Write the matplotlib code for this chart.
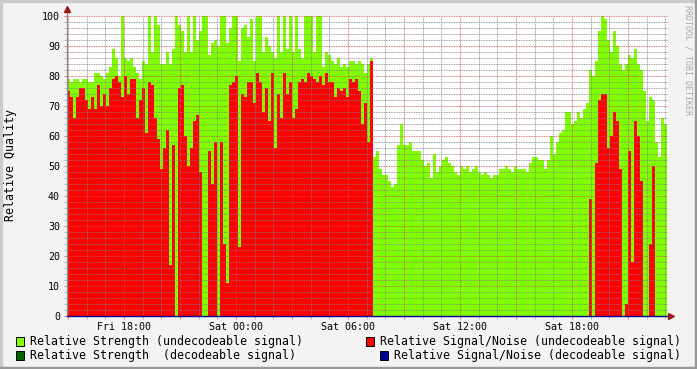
import numpy as np
import matplotlib.pyplot as plt
from matplotlib.patches import Rectangle

# one sample every ~9.6 min, time in hours relative to Fri 18:00
START_H = -3.054
STEP_H = 0.1607

strength_undec = [
    79, 78, 79, 79, 78, 79, 79, 78, 78, 81, 81, 80, 79, 81, 83, 89, 86, 80, 100, 86,
    85, 86, 83, 81, 79, 85, 84, 100, 88, 100, 97, 84, 84,
    88, 84, 89, 100, 97, 95, 88, 100, 88, 100, 92, 95, 100, 100, 87, 91, 92, 90, 100, 100,
    91, 96, 100, 100, 85, 96, 97, 93, 99, 85, 100, 100, 88,
    93, 90, 88, 86, 100, 88, 100, 89, 100, 88, 100, 89, 86, 100, 100, 100, 88, 100, 100, 83,
    88, 87, 85, 84, 86, 83, 84, 83, 85, 85, 84, 85, 84, 81, 84, 86,
    53, 55, 49, 47, 47, 45, 43, 44, 57, 64, 57, 57, 58, 55, 55, 55, 52, 50, 51, 46,
    54, 48, 50, 52, 53, 51, 50, 48, 47, 50, 49, 50, 48, 49, 50, 48, 47, 48, 47, 46,
    47, 47, 49, 49, 50, 49, 48, 50, 49,
    49, 49, 48, 51, 53, 53, 52, 52, 49, 52, 60, 54, 58, 61, 62, 68, 68, 64, 65, 68,
    66, 69, 71, 82, 80, 85, 95, 100, 99, 92, 88, 95, 90, 84, 82, 84, 87, 86, 89, 84,
    82, 75, 65, 73, 72, 58, 53, 66, 64,
]
snr_undec = [
    75, 73, 66, 73, 76, 76, 72, 69, 73, 69, 77, 70, 74, 70, 76, 79, 80, 78, 73, 80,
    74, 79, 79, 66, 72, 76, 61, 78, 77, 66, 59, 49, 56,
    62, 17, 57, 0, 76, 77, 60, 50, 56, 65, 67, 48, 0, 0, 55, 44, 58, 0, 58, 24,
    11, 77, 78, 80, 23, 74, 73, 78, 78, 71, 81, 78, 68,
    76, 65, 81, 56, 74, 66, 81, 74, 78, 66, 69, 78, 79, 78, 81, 80, 79, 78, 80, 77,
    81, 78, 78, 73, 76, 75, 76, 73, 79, 78, 79, 75, 64, 71, 58, 85,
    0, 0, 0, 0, 0, 0, 0, 0, 0, 0, 0, 0, 0, 0, 0, 0, 0, 0, 0, 0,
    0, 0, 0, 0, 0, 0, 0, 0, 0, 0, 0, 0, 0, 0, 0, 0, 0, 0, 0, 0,
    0, 0, 0, 0, 0, 0, 0, 0, 0,
    0, 0, 0, 0, 0, 0, 0, 0, 0, 0, 0, 0, 0, 0, 0, 0, 0, 0, 0, 0,
    0, 0, 0, 39, 0, 51, 72, 74, 74, 56, 60, 68, 65, 49, 0, 4, 55, 18, 65, 60,
    45, 0, 0, 24, 50, 0, 0, 0, 0,
]
strength_dec = [0] * len(strength_undec)
snr_dec = [0] * len(snr_undec)

tick_hours = [0, 6, 12, 18, 24]
tick_labels = ["Fri 18:00", "Sat 00:00", "Sat 06:00", "Sat 12:00", "Sat 18:00"]

legend_left = ["Relative Strength (undecodeable signal)",
               "Relative Strength  (decodeable signal)"]
legend_right = ["Relative Signal/Noise (undecodeable signal)",
                "Relative Signal/Noise (decodeable signal)"]

GREEN = "#80ff00"
RED = "#ff0000"
DKGREEN = "#006400"
BLUE = "#000096"
MGRID = (0.80, 0.30, 0.30, 0.35)
GRID = (0.50, 0.50, 0.50, 0.28)
DOTS = (0, (1, 1))

plt.rcParams["font.family"] = "DejaVu Sans Mono"

W, H = 697, 369
PX_H = 112 / 6  # pixels per hour


def fx(px):
    return px / W


def fy(py):
    return 1 - py / H


fig = plt.figure(figsize=(W / 100, H / 100), dpi=100, facecolor="#f3f3f3")
ax = fig.add_axes([fx(67), fy(315.5), (668 - 67) / W, 300 / H])
ax.set_facecolor("white")

edges = START_H + STEP_H * np.arange(len(strength_undec) + 1)
ax.stairs(strength_undec, edges, fill=True, color=GREEN, zorder=1)
ax.stairs(snr_undec, edges, fill=True, color=RED, zorder=2)
ax.stairs(strength_dec, edges, fill=True, color=DKGREEN, zorder=2)

x0 = START_H
x1 = START_H + (668 - 67) / PX_H
ax.set_xlim(x0, x1)
ax.set_ylim(0, 100)

ax.set_yticks(range(0, 101, 10))
ax.set_yticks(range(0, 101, 2), minor=True)
major_x = np.arange(-3, 30, 3)
ax.set_xticks(major_x)
ax.set_xticklabels([tick_labels[tick_hours.index(h)] if h in tick_hours else "" for h in major_x])
ax.set_xticks(np.arange(-3, 30, 1), minor=True)

ax.grid(which="minor", color=GRID, linestyle=DOTS, linewidth=0.6)
ax.grid(which="major", color=MGRID, linestyle=DOTS, linewidth=0.6)
ax.set_axisbelow(False)

ax.tick_params(which="both", direction="out", length=2, width=0.72, labelsize=7.2, pad=3)
ax.tick_params(which="major", color=(0.87, 0.32, 0.32, 0.7))
ax.tick_params(which="minor", color=(0.5, 0.5, 0.5, 0.5))
for s in ax.spines.values():
    s.set_visible(False)

# axes with arrows
arrow_x = (671 - 124) / PX_H
ax.plot([x0, x0], [0, 102], color="#8a8a8a", lw=0.9, clip_on=False, zorder=4)
ax.plot([x0, arrow_x], [0, 0], color=BLUE, lw=1.0, clip_on=False, zorder=4)
ax.plot([x0], [102.2], marker="^", ms=4, color="#9a1a1a", clip_on=False, zorder=5)
ax.plot([arrow_x], [0], marker=">", ms=4, color="#9a1a1a", clip_on=False, zorder=5)

fig.text(fx(11), fy(165), "Relative Quality", rotation=90, fontsize=8.4,
         ha="center", va="center")
fig.text(fx(688), fy(60), "RRDTOOL / TOBI OETIKER", rotation=270, fontsize=6,
         color="#a8a8a8", ha="center", va="center")

# legend
rows = [341.5, 355.5]
left_colors = [GREEN, DKGREEN]
right_colors = [RED, BLUE]
for i, y in enumerate(rows):
    fig.patches.append(Rectangle((fx(15.5), fy(y + 4.5)), 8 / W, 9 / H, transform=fig.transFigure,
                                 facecolor=left_colors[i], edgecolor="black", lw=0.72))
    fig.text(fx(30), fy(y), legend_left[i], fontsize=8.4, ha="left", va="center")
    fig.text(fx(681), fy(y), legend_right[i], fontsize=8.4, ha="right", va="center")
    box_x = 365.5 if i == 0 else 379.5
    fig.patches.append(Rectangle((fx(box_x), fy(y + 4.5)), 8 / W, 9 / H, transform=fig.transFigure,
                                 facecolor=right_colors[i], edgecolor="black", lw=0.72))

# 3d frame
fig.patches.append(Rectangle((0, 1 - 2 / H), 1, 2 / H, transform=fig.transFigure, color="#cbcbcb"))
fig.patches.append(Rectangle((0, 0), 2 / W, 1, transform=fig.transFigure, color="#cbcbcb"))
fig.patches.append(Rectangle((0, 0), 1, 2 / H, transform=fig.transFigure, color="#999999"))
fig.patches.append(Rectangle((1 - 2 / W, 0), 2 / W, 1, transform=fig.transFigure, color="#999999"))

fig.savefig("out.png", dpi=100, facecolor=fig.get_facecolor())
